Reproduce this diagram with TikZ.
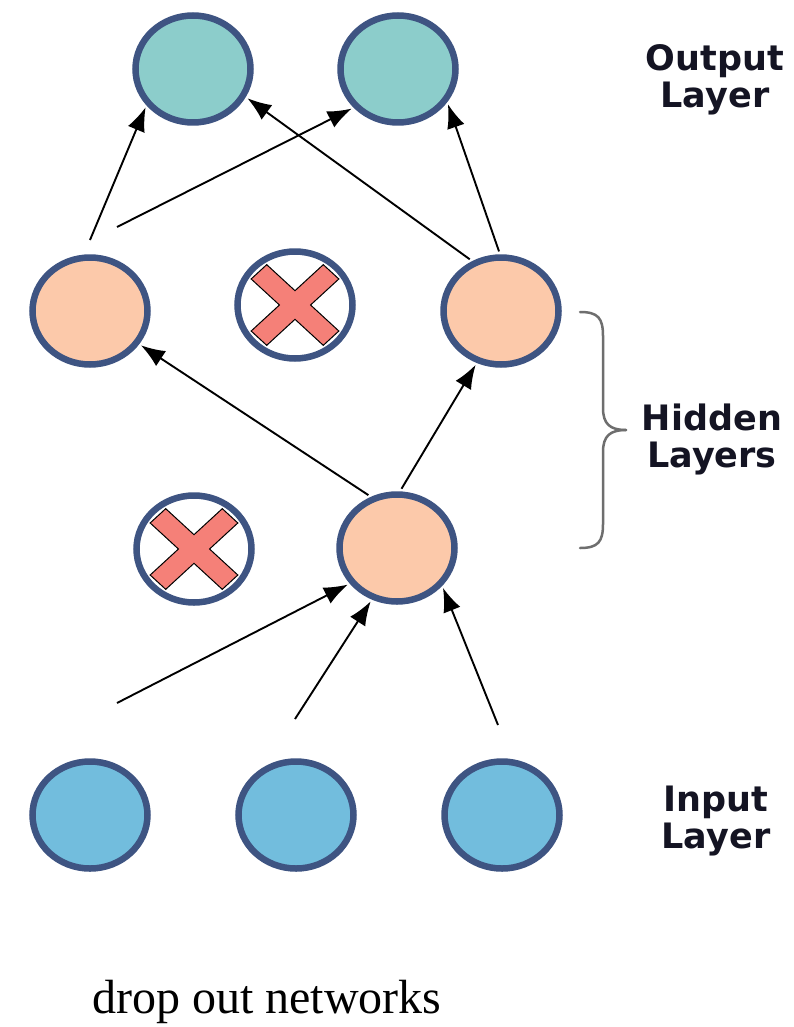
\documentclass[tikz,border=0pt]{standalone}
\usepackage{fontspec}
\setmainfont{Liberation Serif}
\newfontfamily\labfont{DejaVu Sans}
\usetikzlibrary{arrows.meta,shapes.geometric}
\definecolor{nborder}{RGB}{62,84,130}
\definecolor{outfill}{RGB}{140,205,203}
\definecolor{hidfill}{RGB}{252,201,170}
\definecolor{infill}{RGB}{114,189,221}
\definecolor{xfill}{RGB}{245,128,120}
\definecolor{bracecol}{RGB}{110,110,110}
\definecolor{labcol}{RGB}{20,20,35}
\tikzset{
  xcross/.pic={
    \draw[fill=xfill, draw=black, line width=1pt, line join=miter]
      (11,11) -- (51,11) -- (51,-11) -- (11,-11) -- (11,-51) -- (-11,-51) --
      (-11,-11) -- (-51,-11) -- (-51,11) -- (-11,11) -- (-11,51) -- (11,51) -- cycle;
  },
  tipstyle/.tip={Latex[length=24pt,width=18pt]}
}
\begin{document}
\begin{tikzpicture}[x=1pt,y=-1pt,
  neuron/.style={ellipse, draw=nborder, line width=6.5pt, minimum width=115pt, minimum height=107pt, inner sep=0pt},
  outn/.style={neuron, fill=outfill},
  hidn/.style={neuron, fill=hidfill},
  inn/.style={neuron, fill=infill},
  dropn/.style={neuron, fill=white},
  conn/.style={line width=1.9pt, -tipstyle, shorten >=2pt},
  nconn/.style={conn, shorten <=3pt},
  lab/.style={font=\labfont\bfseries\fontsize{35}{37}\selectfont, align=center, inner sep=0pt, text=labcol},
  bracestyle/.style={draw=bracecol, line width=2.5pt, line cap=round}]
\useasboundingbox (0,0) rectangle (794,1027);
\fill[white] (0,0) rectangle (794,1027);

% nodes
\node[outn] (O1) at (193,69) {};
\node[outn] (O2) at (398,69) {};
\node[hidn] (HL) at (90,311) {};
\node[dropn] (HX1) at (295,305) {};
\node[hidn] (HR) at (501,311) {};
\node[dropn] (HX2) at (194,549) {};
\node[hidn] (HB) at (397,548) {};
\node[inn] (I1) at (90,815) {};
\node[inn] (I2) at (296,815) {};
\node[inn] (I3) at (502,815) {};

% crosses
\path (HX1) pic[yscale=0.92, rotate=45] {xcross};
\path (HX2) pic[yscale=0.92, rotate=45] {xcross};

% free line starts
\coordinate (a1s) at (90,240);
\coordinate (a2s) at (117,227);
\coordinate (a7s) at (117,703);
\coordinate (a8s) at (295,719);
\coordinate (a9s) at (498,725);

% connectors
\draw[conn] (a1s) -- (O1.218);
\draw[conn] (a2s) -- (O2.221);
\draw[nconn] (HR.120) -- (O1.-28);
\draw[nconn] (HR.91) -- (O2.-34);
\draw[nconn] (HB.117) -- (HL.-34);
\draw[nconn] (HB.87) -- (HR.245);
\draw[conn] (a7s) -- (HB.217);
\draw[conn] (a8s) -- (HB.244);
\draw[conn] (a9s) -- (HB.320);

% brace
\draw[bracestyle] (580,312) .. controls (598,312) and (603,318) .. (603,336) -- (603,408)
  .. controls (603,424) and (610,430) .. (626,430);
\draw[bracestyle] (626,430) .. controls (610,430) and (603,436) .. (603,452) -- (603,524)
  .. controls (603,542) and (598,548) .. (580,548);

% labels
\node[lab] (lout) at (715,79.5) {Output\\Layer};
\node[lab] (lhid) at (712,439.5) {Hidden\\Layers};
\node[lab] (linp) at (716,821.5) {Input\\Layer};
\node[anchor=base west, inner sep=0pt, font=\fontsize{48}{56}\selectfont] (cap) at (92,1013) {drop out networks};
\end{tikzpicture}
\end{document}
